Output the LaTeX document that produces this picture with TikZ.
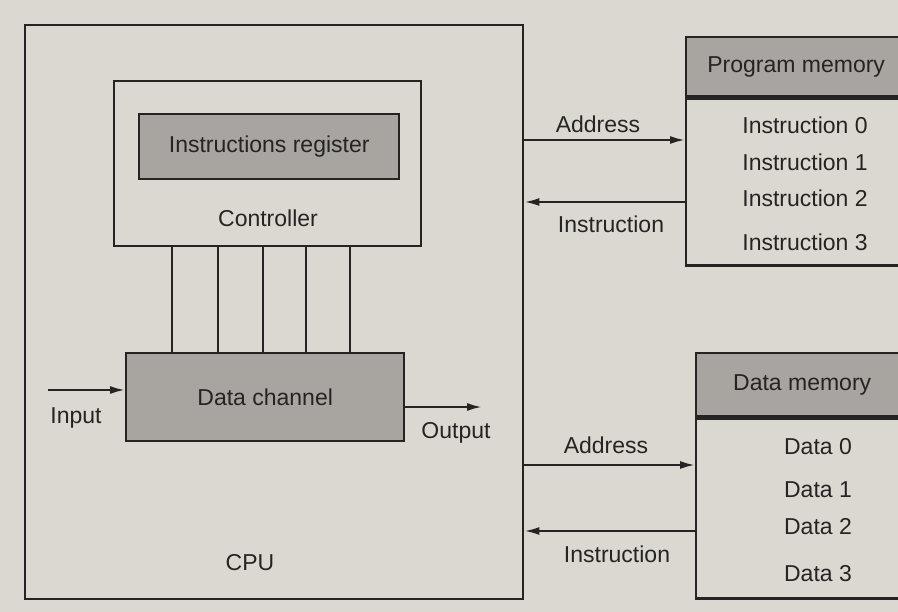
\documentclass[tikz,border=0pt]{standalone}
\usepackage{fontspec}
\setmainfont{Liberation Sans}
\usetikzlibrary{arrows.meta}
\definecolor{paper}{RGB}{219,216,210}
\definecolor{ink}{RGB}{38,36,34}
\definecolor{shade}{RGB}{168,165,160}
\begin{document}
\begin{tikzpicture}[x=1pt,y=-1pt,
  box/.style={draw=ink, line width=2.4pt, inner sep=0pt, anchor=north west,
              text=ink, font=\fontsize{23}{26}\selectfont},
  shaded/.style={box, fill=shade},
  lbl/.style={text=ink, font=\fontsize{23}{26}\selectfont, inner sep=0pt},
  wire/.style={draw=ink, line width=2.2pt},
  arr/.style={wire, -{Latex[length=15pt,width=8pt]}}]
\clip (0,0) rectangle (898,612);
\fill[paper] (0,0) rectangle (898,612);

% CPU with controller and data channel
\node[box, minimum width=498pt, minimum height=574pt] (cpu) at (24,24) {};
\node[box, minimum width=307pt, minimum height=165pt] (ctrl) at (113,80) {};
\node[shaded, minimum width=260pt, minimum height=65pt] (ir) at (138,113) {Instructions register};
\node[lbl] (ctrllbl) at (268,218) {Controller};
\node[shaded, minimum width=278pt, minimum height=88pt] (dch) at (125,352) {Data channel};
\foreach \x in {172,218,263,306,350}
  \draw[wire] (\x,0 |- ctrl.south) -- (\x,0 |- dch.north);

\coordinate (inp) at (48,390);
\draw[arr] (inp) -- (inp -| dch.west);
\node[lbl] (inlbl) at (76,418) {Input};
\coordinate (outp) at (482,407);
\draw[arr] (dch.east |- outp) -- (outp);
\node[lbl] (outlbl) at (456,433) {Output};
\node[lbl] (cpulbl) at (250,563) {CPU};

% Program memory
\node[shaded, minimum width=220pt, minimum height=59pt] (pmh) at (685,36) {Program memory};
\node[box, minimum width=220pt, minimum height=167pt] (pm) at (pmh.south west) {};
\node[lbl] (i0) at (805,125) {Instruction 0};
\node[lbl] (i1) at (805,162) {Instruction 1};
\node[lbl] (i2) at (805,198) {Instruction 2};
\node[lbl] (i3) at (805,242) {Instruction 3};

\coordinate (pa) at (0,140);
\draw[arr] (cpu.east |- pa) -- (pm.west |- pa);
\node[lbl] (pal) at (598,124) {Address};
\coordinate (pi) at (0,202);
\draw[arr] (pm.west |- pi) -- (cpu.east |- pi);
\node[lbl] (pil) at (611,224) {Instruction};

% Data memory
\node[shaded, minimum width=212pt, minimum height=63pt] (dmh) at (695,352) {Data memory};
\node[box, minimum width=212pt, minimum height=180pt] (dm) at (dmh.south west) {};
\node[lbl] (d0) at (818,447) {Data 0};
\node[lbl] (d1) at (818,490) {Data 1};
\node[lbl] (d2) at (818,527) {Data 2};
\node[lbl] (d3) at (818,574) {Data 3};

\coordinate (da) at (0,465);
\draw[arr] (cpu.east |- da) -- (dm.west |- da);
\node[lbl] (dal) at (606,445) {Address};
\coordinate (di) at (0,531);
\draw[arr] (dm.west |- di) -- (cpu.east |- di);
\node[lbl] (dil) at (617,554) {Instruction};
\end{tikzpicture}
\end{document}
